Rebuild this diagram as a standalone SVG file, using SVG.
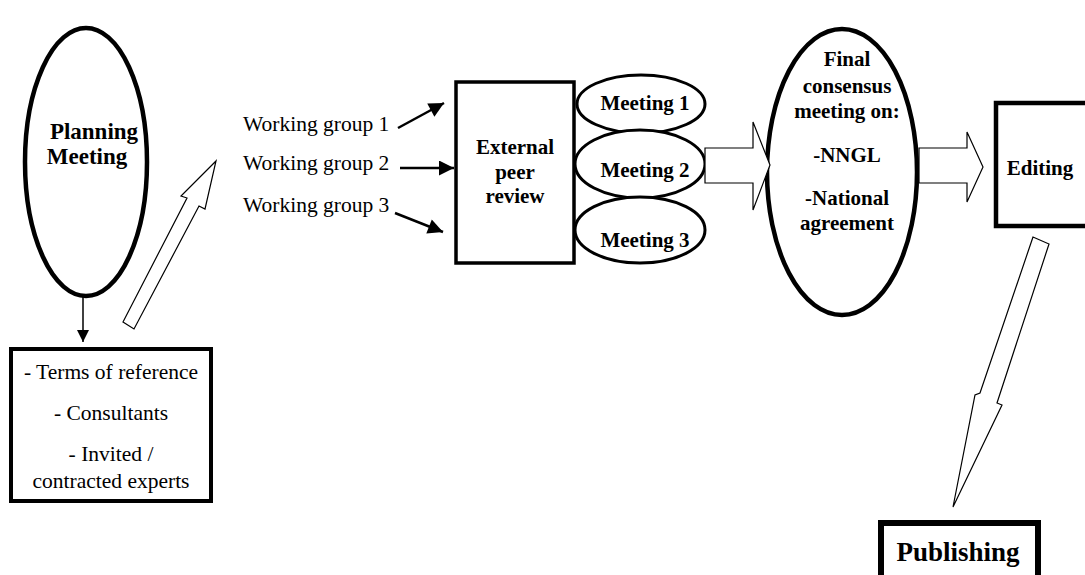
<svg xmlns="http://www.w3.org/2000/svg" width="1085" height="575" viewBox="0 0 1085 575">
<defs>
<marker id="ah" viewBox="0 0 10 10" refX="10" refY="5" markerWidth="7" markerHeight="6" orient="auto" markerUnits="strokeWidth"><path d="M0,0 L10,5 L0,10 z" fill="#000"/></marker>
<marker id="ah2" viewBox="0 0 10 10" refX="10" refY="5" markerWidth="9" markerHeight="8" orient="auto" markerUnits="strokeWidth"><path d="M0,0 L10,5 L0,10 z" fill="#000"/></marker>
</defs>
<style>
text{font-family:'Liberation Serif','Times New Roman',serif;fill:#000}
.b{font-weight:bold;font-size:21px;text-anchor:middle}
.big{font-size:23px}
.pub{font-size:27px}
.r{font-size:21.5px}
.c{text-anchor:middle}
.shape{fill:#fff;stroke:#000}
.blk{fill:#fff;stroke:#000;stroke-width:1.2;stroke-linejoin:miter}
.ln{stroke:#000;fill:none}
</style>
<rect width="1085" height="575" fill="#fff"/>

<g id="planning">
<ellipse class="shape" cx="86" cy="162" rx="61" ry="134" stroke-width="4.5"/>
<text class="b big" x="94" y="139">Planning</text>
<text class="b big" x="87" y="164">Meeting</text>
</g>

<g id="terms">
<rect class="shape" x="11" y="349" width="200" height="152" stroke-width="4"/>
<text class="r c" x="111" y="379">- Terms of reference</text>
<text class="r c" x="111" y="420">- Consultants</text>
<text class="r c" x="111" y="461">- Invited /</text>
<text class="r c" x="111" y="488">contracted experts</text>
</g>

<g id="wg">
<text class="r" x="243" y="131">Working group 1</text>
<text class="r" x="243" y="170">Working group 2</text>
<text class="r" x="243" y="212">Working group 3</text>
</g>

<g id="review">
<rect class="shape" x="456" y="82" width="118" height="181" stroke-width="3.5"/>
<text class="b" x="515" y="154">External</text>
<text class="b" x="515" y="179">peer</text>
<text class="b" x="515" y="203">review</text>
</g>

<g id="meetings">
<ellipse class="shape" cx="641" cy="104" rx="64" ry="29" stroke-width="3"/>
<ellipse class="shape" cx="640" cy="164" rx="65" ry="34" stroke-width="3"/>
<ellipse class="shape" cx="640" cy="230" rx="65" ry="33" stroke-width="3"/>
<text class="b" x="645" y="110">Meeting 1</text>
<text class="b" x="645" y="177">Meeting 2</text>
<text class="b" x="645" y="247">Meeting 3</text>
</g>

<g id="final">
<ellipse class="shape" cx="842" cy="172" rx="75" ry="143" stroke-width="4.5"/>
<text class="b" x="847" y="66">Final</text>
<text class="b" x="847" y="93">consensus</text>
<text class="b" x="847" y="118">meeting on:</text>
<text class="b" x="847" y="162">-NNGL</text>
<text class="b" x="847" y="205">-National</text>
<text class="b" x="847" y="230">agreement</text>
</g>

<g id="editing">
<rect class="shape" x="996" y="103" width="100" height="123" stroke-width="4.5"/>
<text class="b" x="1040" y="175">Editing</text>
</g>

<g id="publishing">
<rect class="shape" x="881" y="523" width="157" height="70" stroke-width="6"/>
<text class="b pub" x="958" y="561">Publishing</text>
</g>

<g id="connectors">
<line class="ln" x1="83" y1="297" x2="83" y2="342" stroke-width="1.5" marker-end="url(#ah2)"/>
<line class="ln" x1="398" y1="128" x2="444" y2="103" stroke-width="2.5" marker-end="url(#ah)"/>
<line class="ln" x1="400" y1="168" x2="454" y2="168" stroke-width="2.5" marker-end="url(#ah)"/>
<line class="ln" x1="395" y1="213" x2="443" y2="232" stroke-width="2.5" marker-end="url(#ah)"/>
<polygon class="blk" points="123,322 187,198 181,196 216,161 205,209 199,206 134,329"/>
<polygon class="blk" points="705,148 753,148 753,122 770,165 753,210 753,183 705,183"/>
<polygon class="blk" points="919,148 967,148 967,132 983,167 967,202 967,183 919,183"/>
<polygon class="blk" points="1033,237 980,393 975,395 953,507 1002,405 997,403 1049,244"/>
</g>
</svg>
